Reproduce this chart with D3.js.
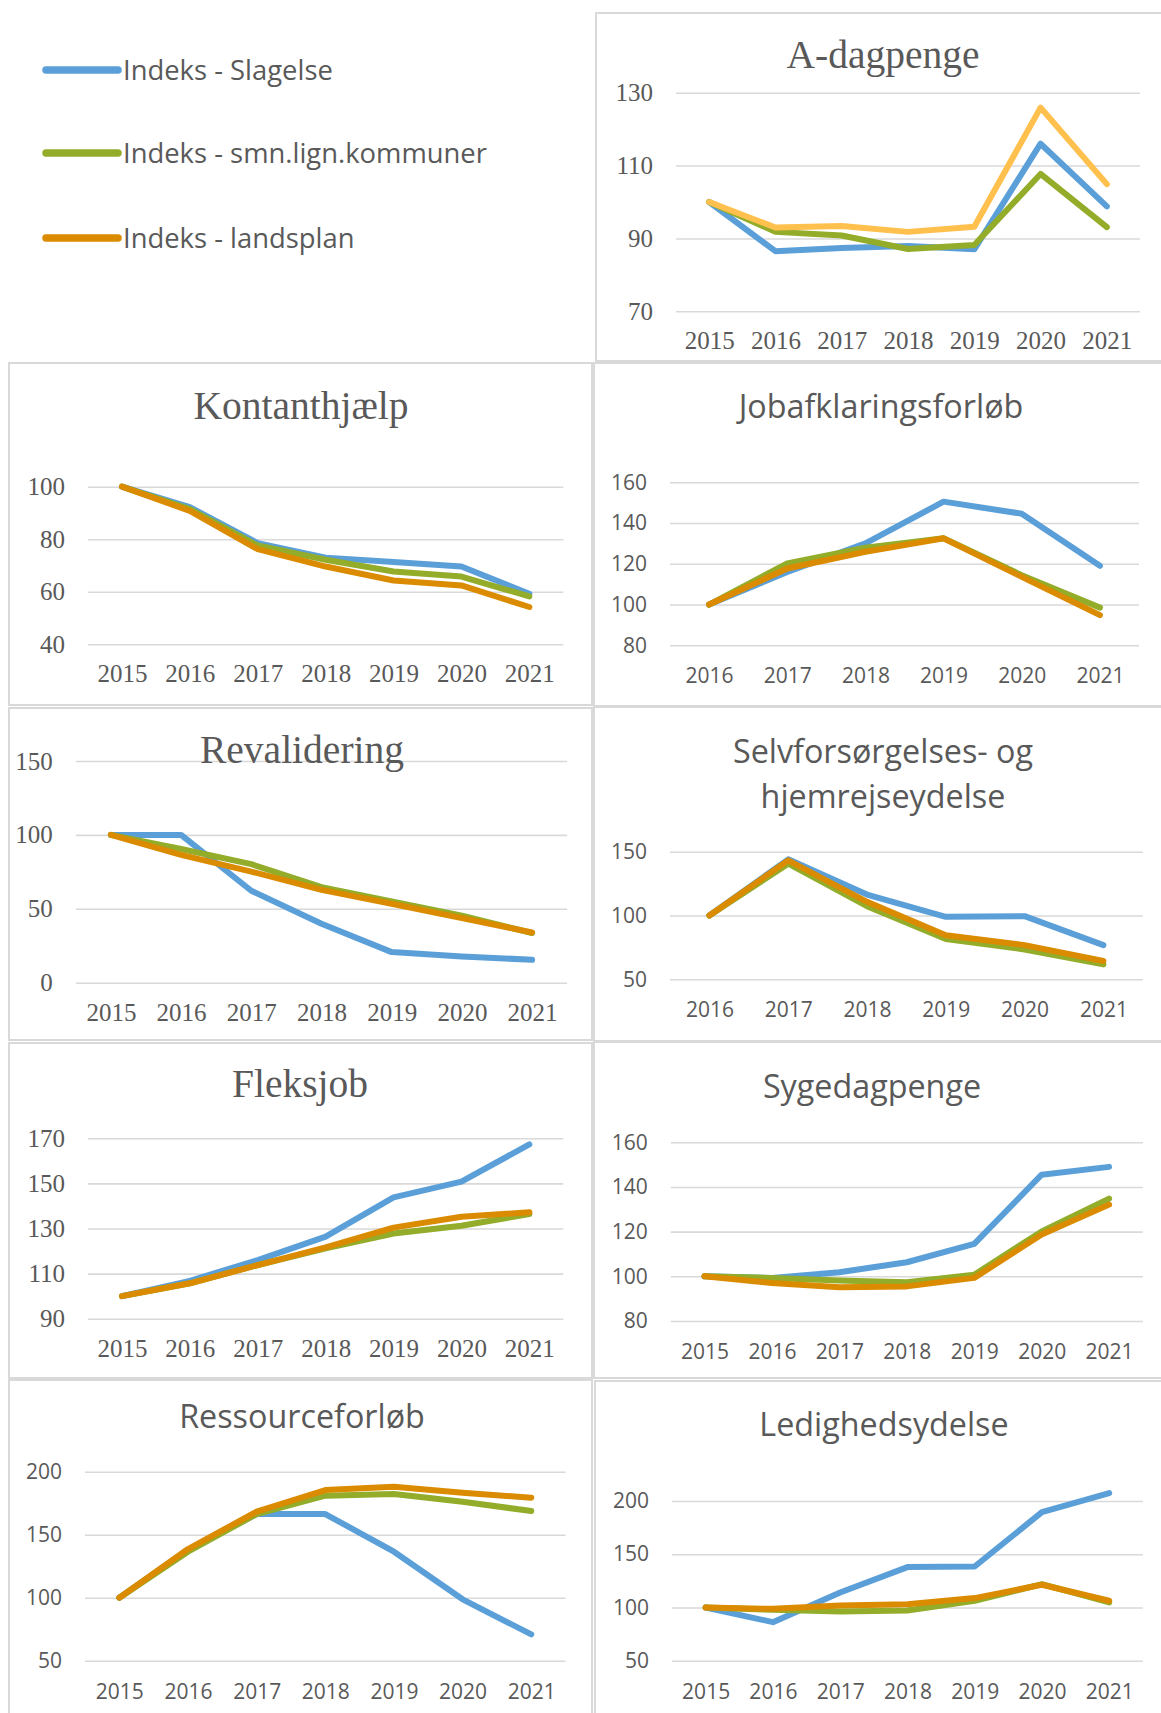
<!DOCTYPE html>
<html>
<head>
<meta charset="utf-8">
<script src="https://cdnjs.cloudflare.com/ajax/libs/d3/7.8.5/d3.min.js"></script>
<style>
  body { margin: 0; background: #fff; }
  svg { display: block; }
</style>
</head>
<body>
<script>
// Years on the x axes
var years7 = ['2015', '2016', '2017', '2018', '2019', '2020', '2021'];
var years6 = ['2016', '2017', '2018', '2019', '2020', '2021'];

// Legend
var seriesNames = ['Indeks - Slagelse', 'Indeks - smn.lign.kommuner', 'Indeks - landsplan'];
var seriesColors = ['#5b9fd8', '#93ac29', '#db8b00'];

// A-dagpenge
var aDagSlagelse = [100, 86.5, 87.4, 87.9, 87, 116, 98.8];
var aDagSmn = [100, 91.8, 90.8, 87.1, 88.2, 107.7, 93.1];
var aDagLand = [100, 93, 93.4, 91.8, 93.2, 125.9, 104.9];
var aDagTicks = [70, 90, 110, 130];

// Kontanthjælp
var kontSlagelse = [100, 92.2, 78.5, 73, 71.3, 69.6, 59.2];
var kontSmn = [100, 91.5, 77.6, 72.2, 67.7, 65.8, 58.2];
var kontLand = [100, 90.8, 76.2, 69.6, 64.3, 62.4, 54.2];
var kontTicks = [40, 60, 80, 100];

// Jobafklaringsforløb
var jobSlagelse = [100, 116, 130, 150.5, 144.6, 119];
var jobSmn = [100, 120.2, 127.9, 132.5, 114.4, 98.5];
var jobLand = [100, 117.7, 125.9, 132.5, 113.6, 94.8];
var jobTicks = [80, 100, 120, 140, 160];

// Revalidering
var revSlagelse = [100, 100, 62.2, 39.9, 20.7, 17.8, 15.5];
var revSmn = [100, 90.5, 80.2, 64.6, 55, 45.3, 33.6];
var revLand = [100, 86.5, 75.2, 62.8, 53.4, 43.7, 34];
var revTicks = [0, 50, 100, 150];

// Selvforsørgelses- og hjemrejseydelse
var selvSlagelse = [100, 144, 116.4, 99, 99.5, 76.8];
var selvSmn = [100, 140.6, 107.3, 81.5, 73.4, 61.7];
var selvLand = [100, 143.2, 110.7, 84.6, 76.8, 64.3];
var selvTicks = [50, 100, 150];

// Fleksjob
var fleksSlagelse = [100, 106.8, 116, 126.4, 143.8, 150.8, 167.3];
var fleksSmn = [100, 105.7, 113.8, 121.2, 127.8, 131.2, 136.4];
var fleksLand = [100, 105.7, 113.8, 121.6, 130.4, 135.2, 137.2];
var fleksTicks = [90, 110, 130, 150, 170];

// Sygedagpenge
var sygSlagelse = [100, 99.3, 101.8, 106.3, 114.5, 145.5, 149];
var sygSmn = [100, 99.3, 98.1, 97.3, 100.7, 120.1, 134.8];
var sygLand = [100, 97, 95.1, 95.5, 99.3, 118.7, 132.1];
var sygTicks = [80, 100, 120, 140, 160];

// Ressourceforløb
var resSlagelse = [100, 137.8, 166.4, 166.4, 136.5, 98.7, 70.9];
var resSmn = [100, 136.5, 166.4, 181, 182.3, 176.2, 168.8];
var resLand = [100, 138.6, 168.3, 185.4, 188.1, 183.3, 179.4];
var resTicks = [50, 100, 150, 200];

// Ledighedsydelse
var ledSlagelse = [100, 86.2, 114.1, 137.9, 138.5, 189.5, 207.4];
var ledSmn = [100, 97.8, 96.2, 97.2, 106.3, 121.9, 104.7];
var ledLand = [100, 98.7, 101.9, 103.1, 108.8, 121.3, 106.3];
var ledTicks = [50, 100, 150, 200];

var serif = "'Liberation Serif', 'Times New Roman', serif";
var sans = "'Open Sans', 'Noto Sans', sans-serif";
var textColor = '#595959';
var gridColor = '#d9d9d9';

// Panel layout: box, plot area, title and data
var panels = [
  { title: ['A-dagpenge'], font: serif, box: [596, 13, 1170, 361], plot: [676, 1140, 92.7, 311.3],
    titleX: 883, titleY: [68], years: years7, ticks: aDagTicks,
    series: [aDagSlagelse, aDagSmn, aDagLand], colors: ['#5b9fd8', '#93ac29', '#ffc04d'] },
  { title: ['Kontanthjælp'], font: serif, box: [9, 363, 592, 705], plot: [88, 563.3, 486.7, 644.3],
    titleX: 301, titleY: [419], years: years7, ticks: kontTicks,
    series: [kontSlagelse, kontSmn, kontLand] },
  { title: ['Jobafklaringsforløb'], font: sans, box: [594, 363, 1170, 706], plot: [670, 1139, 482.3, 645.3],
    titleX: 881, titleY: [418], years: years6, ticks: jobTicks,
    series: [jobSlagelse, jobSmn, jobLand] },
  { title: ['Revalidering'], font: serif, box: [9, 708, 592, 1040], plot: [75.8, 567.2, 761, 982.7],
    titleX: 302, titleY: [763], years: years7, ticks: revTicks,
    series: [revSlagelse, revSmn, revLand] },
  { title: ['Selvforsørgelses- og', 'hjemrejseydelse'], font: sans, box: [594, 707, 1170, 1041], plot: [670, 1142.8, 851.7, 979.3],
    titleX: 883, titleY: [763, 808], years: years6, ticks: selvTicks,
    series: [selvSlagelse, selvSmn, selvLand] },
  { title: ['Fleksjob'], font: serif, box: [9, 1043, 592, 1378], plot: [88, 563.3, 1138.3, 1318.7],
    titleX: 300, titleY: [1097], years: years7, ticks: fleksTicks,
    series: [fleksSlagelse, fleksSmn, fleksLand] },
  { title: ['Sygedagpenge'], font: sans, box: [594, 1042, 1170, 1378], plot: [670.8, 1142.8, 1142.3, 1321],
    titleX: 872, titleY: [1098], years: years7, ticks: sygTicks,
    series: [sygSlagelse, sygSmn, sygLand] },
  { title: ['Ressourceforløb'], font: sans, box: [9, 1380, 592, 1725], plot: [85, 565.6, 1471.7, 1660.7],
    titleX: 302, titleY: [1428], years: years7, ticks: resTicks,
    series: [resSlagelse, resSmn, resLand] },
  { title: ['Ledighedsydelse'], font: sans, box: [595, 1381, 1170, 1725], plot: [672, 1142.8, 1501, 1660.7],
    titleX: 884, titleY: [1436], years: years7, ticks: ledTicks,
    series: [ledSlagelse, ledSmn, ledLand] }
];

var svg = d3.select('body')
  .append('svg')
  .attr('width', 1161)
  .attr('height', 1713);

// Legend in the top left corner
function drawLegend() {
  var rowY = [70, 153, 238];
  var g = svg.append('g');
  seriesNames.forEach(function(name, i) {
    g.append('line')
      .attr('x1', 46).attr('x2', 118)
      .attr('y1', rowY[i]).attr('y2', rowY[i])
      .attr('stroke', seriesColors[i])
      .attr('stroke-width', 7.5)
      .attr('stroke-linecap', 'round');
    g.append('text')
      .attr('x', 123)
      .attr('y', rowY[i] + 9.5)
      .attr('fill', textColor)
      .attr('font-family', sans)
      .attr('font-size', '27.4px')
      .text(name);
  });
}

// One small line chart
function drawPanel(p) {
  var g = svg.append('g');
  var isSerif = p.font === serif;

  g.append('rect')
    .attr('x', p.box[0]).attr('y', p.box[1])
    .attr('width', p.box[2] - p.box[0])
    .attr('height', p.box[3] - p.box[1])
    .attr('fill', 'none')
    .attr('stroke', gridColor)
    .attr('stroke-width', 2);

  var x = d3.scalePoint()
    .domain(p.years)
    .range([p.plot[0], p.plot[1]])
    .padding(0.5);

  var y = d3.scaleLinear()
    .domain([p.ticks[0], p.ticks[p.ticks.length - 1]])
    .range([p.plot[3], p.plot[2]]);

  // gridlines + y tick labels
  var yAxis = g.append('g')
    .attr('transform', 'translate(' + p.plot[0] + ',0)')
    .call(d3.axisLeft(y)
      .tickValues(p.ticks)
      .tickSize(-(p.plot[1] - p.plot[0]))
      .tickPadding(23)
      .tickFormat(d3.format('d')));
  yAxis.select('.domain').remove();
  yAxis.selectAll('line')
    .attr('stroke', gridColor)
    .attr('stroke-width', 1.6);
  yAxis.selectAll('text')
    .attr('fill', textColor)
    .attr('font-family', p.font)
    .attr('font-size', isSerif ? '25px' : '21px');

  // year labels
  var xAxis = g.append('g')
    .attr('transform', 'translate(0,' + p.plot[3] + ')')
    .call(d3.axisBottom(x).tickSize(0));
  xAxis.select('.domain').remove();
  xAxis.selectAll('text')
    .attr('y', 38)
    .attr('dy', 0)
    .attr('fill', textColor)
    .attr('font-family', p.font)
    .attr('font-size', isSerif ? '25px' : '21px');

  // title
  p.title.forEach(function(t, i) {
    g.append('text')
      .attr('x', p.titleX)
      .attr('y', p.titleY[i])
      .attr('text-anchor', 'middle')
      .attr('fill', textColor)
      .attr('font-family', p.font)
      .attr('font-size', isSerif ? '39.5px' : '32.3px')
      .text(t);
  });

  var line = d3.line()
    .x(function(d, i) { return x(p.years[i]); })
    .y(function(d) { return y(d); });

  var colors = p.colors || seriesColors;
  p.series.forEach(function(s, i) {
    g.append('path')
      .datum(s)
      .attr('d', line)
      .attr('fill', 'none')
      .attr('stroke', colors[i])
      .attr('stroke-width', 6)
      .attr('stroke-linejoin', 'round')
      .attr('stroke-linecap', 'round');
  });
}

drawLegend();
panels.forEach(drawPanel);
</script>
</body>
</html>
